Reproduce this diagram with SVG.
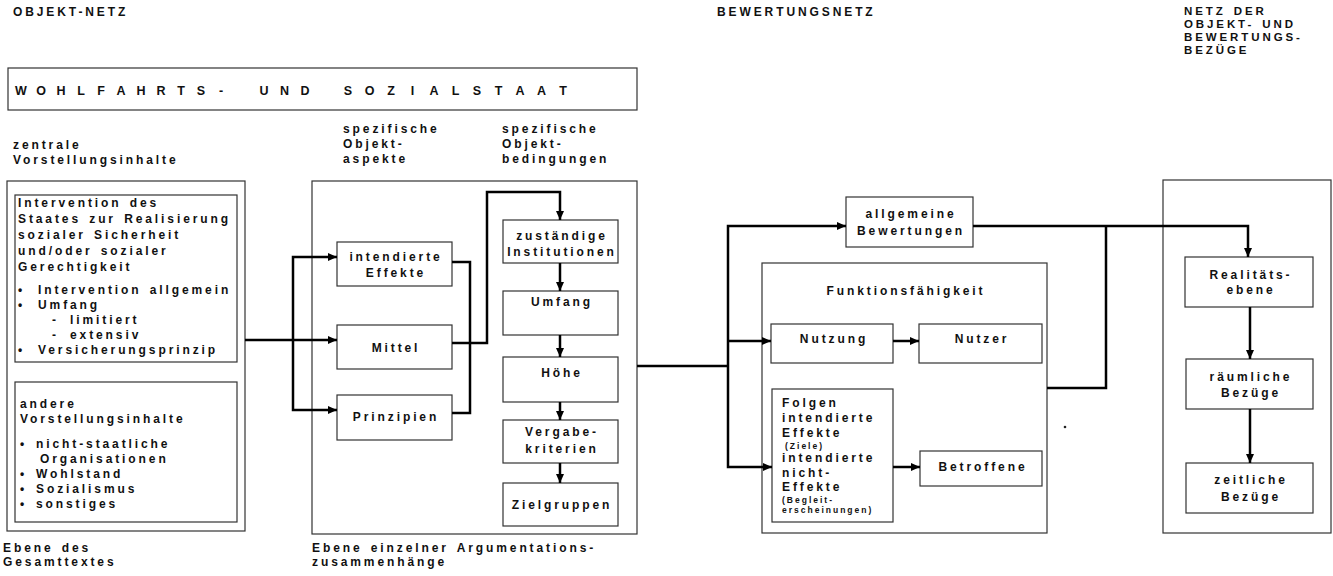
<svg xmlns="http://www.w3.org/2000/svg" width="1333" height="576" viewBox="0 0 1333 576">
<style>
.t{font-family:"Liberation Sans",Arial,sans-serif;font-weight:bold;font-size:12px;letter-spacing:2.9px;word-spacing:2px;fill:#111}
.h{font-size:11.5px}
.c{text-anchor:middle}
.s{font-size:8.5px;letter-spacing:2px}
.ti{font-family:"Liberation Sans",Arial,sans-serif;font-weight:bold;font-size:12.5px;fill:#111;text-anchor:middle}
.box{fill:#fff;stroke:#333;stroke-width:1.2}
.conn{fill:none;stroke:#000;stroke-width:2.5}
.arr{marker-end:url(#ah)}
</style>
<defs>
<marker id="ah" markerUnits="userSpaceOnUse" markerWidth="10" markerHeight="8" refX="9" refY="4" orient="auto">
<path d="M0,0 L9,4 L0,8 z" fill="#000"/>
</marker>
</defs>
<rect width="1333" height="576" fill="#fff"/>

<g id="headers">
<text class="t" x="13" y="16">OBJEKT-NETZ</text>
<text class="t" x="717" y="16">BEWERTUNGSNETZ</text>
<text class="t h" x="1184" y="15">NETZ DER</text>
<text class="t h" x="1184" y="28">OBJEKT- UND</text>
<text class="t h" x="1184" y="41">BEWERTUNGS-</text>
<text class="t h" x="1184" y="54">BEZÜGE</text>
<text class="t" x="13" y="149">zentrale</text>
<text class="t" x="13" y="164">Vorstellungsinhalte</text>
<text class="t" x="343" y="133">spezifische</text>
<text class="t" x="343" y="148">Objekt-</text>
<text class="t" x="343" y="163">aspekte</text>
<text class="t" x="502" y="133">spezifische</text>
<text class="t" x="502" y="148">Objekt-</text>
<text class="t" x="502" y="163">bedingungen</text>
<text class="t" x="3" y="552">Ebene des</text>
<text class="t" x="3" y="566">Gesamttextes</text>
<text class="t" x="312" y="552">Ebene einzelner Argumentations-</text>
<text class="t" x="312" y="566">zusammenhänge</text>
</g>

<g id="title">
<rect class="box" x="8" y="68" width="629" height="42"/>
<text class="ti" y="95" x="21 41 61 81 101 121 141 161 181 201 221">WOHLFAHRTS-</text>
<text class="ti" y="95" x="264 284.5 305">UND</text>
<text class="ti" y="95" x="348 369.5 391 412.5 434 455.5 477 498.5 520 541.5 563">SOZIALSTAAT</text>
</g>

<g id="gesamttext">
<rect class="box" x="7" y="181" width="238" height="350"/>
</g>
<g id="zentrale">
<rect class="box" x="15" y="195" width="222" height="167"/>
<text class="t" x="18" y="207">Intervention des</text>
<text class="t" x="18" y="223">Staates zur Realisierung</text>
<text class="t" x="18" y="239">sozialer Sicherheit</text>
<text class="t" x="18" y="255">und/oder sozialer</text>
<text class="t" x="18" y="271">Gerechtigkeit</text>
<text class="t" x="18" y="294">•</text><text class="t" x="38" y="294">Intervention allgemein</text>
<text class="t" x="18" y="309">•</text><text class="t" x="38" y="309">Umfang</text>
<text class="t" x="52" y="324">-</text><text class="t" x="70" y="324">limitiert</text>
<text class="t" x="52" y="339">-</text><text class="t" x="70" y="339">extensiv</text>
<text class="t" x="18" y="354">•</text><text class="t" x="38" y="354">Versicherungsprinzip</text>
</g>
<g id="andere">
<rect class="box" x="15" y="382" width="222" height="140"/>
<text class="t" x="20" y="408">andere</text>
<text class="t" x="20" y="423">Vorstellungsinhalte</text>
<text class="t" x="20" y="448">•</text><text class="t" x="36" y="448">nicht-staatliche</text>
<text class="t" x="40" y="463">Organisationen</text>
<text class="t" x="20" y="478">•</text><text class="t" x="36" y="478">Wohlstand</text>
<text class="t" x="20" y="493">•</text><text class="t" x="36" y="493">Sozialismus</text>
<text class="t" x="20" y="508">•</text><text class="t" x="36" y="508">sonstiges</text>
</g>

<g id="argumentation">
<rect class="box" x="312" y="181" width="325" height="353"/>
</g>
<g id="intendierte"><rect class="box" x="337" y="242" width="115" height="44"/>
<text class="t c" x="396" y="261">intendierte</text><text class="t c" x="396" y="277">Effekte</text></g>
<g id="mittel"><rect class="box" x="337" y="325" width="115" height="44"/>
<text class="t c" x="396" y="352">Mittel</text></g>
<g id="prinzipien"><rect class="box" x="337" y="395" width="115" height="45"/>
<text class="t c" x="396" y="421">Prinzipien</text></g>

<g id="institutionen"><rect class="box" x="503" y="220" width="115" height="43"/>
<text class="t c" x="562" y="240">zuständige</text><text class="t c" x="562" y="256">Institutionen</text></g>
<g id="umfang"><rect class="box" x="503" y="291" width="115" height="44"/>
<text class="t c" x="562" y="306">Umfang</text></g>
<g id="hoehe"><rect class="box" x="503" y="357" width="115" height="45"/>
<text class="t c" x="562" y="377">Höhe</text></g>
<g id="vergabe"><rect class="box" x="503" y="420" width="115" height="43"/>
<text class="t c" x="562" y="436">Vergabe-</text><text class="t c" x="562" y="453">kriterien</text></g>
<g id="zielgruppen"><rect class="box" x="503" y="483" width="115" height="43"/>
<text class="t c" x="562" y="509">Zielgruppen</text></g>

<g id="bewertungen"><rect class="box" x="846" y="197" width="127" height="50"/>
<text class="t c" x="911" y="218">allgemeine</text><text class="t c" x="911" y="235">Bewertungen</text></g>

<g id="funktion"><rect class="box" x="762" y="263" width="285" height="270"/>
<text class="t c" x="906" y="295">Funktionsfähigkeit</text></g>
<g id="nutzung"><rect class="box" x="771" y="324" width="122" height="39"/>
<text class="t c" x="834" y="343">Nutzung</text></g>
<g id="nutzer"><rect class="box" x="919" y="324" width="123" height="39"/>
<text class="t c" x="982" y="343">Nutzer</text></g>
<g id="folgen"><rect class="box" x="772" y="389" width="121" height="133"/>
<text class="t" x="782" y="407">Folgen</text>
<text class="t" x="782" y="422">intendierte</text>
<text class="t" x="782" y="437">Effekte</text>
<text class="t s" x="785" y="449">(Ziele)</text>
<text class="t" x="782" y="462">intendierte</text>
<text class="t" x="782" y="477">nicht-</text>
<text class="t" x="782" y="491">Effekte</text>
<text class="t s" x="782" y="503">(Begleit-</text>
<text class="t s" x="782" y="513">erscheinungen)</text></g>
<g id="betroffene"><rect class="box" x="920" y="451" width="122" height="35"/>
<text class="t c" x="983" y="471">Betroffene</text></g>
<circle cx="1065" cy="427" r="1.3" fill="#222"/>

<g id="bezuege">
<rect class="box" x="1163" y="180" width="168" height="353"/>
</g>
<g id="realitaet"><rect class="box" x="1185" y="257" width="128" height="50"/>
<text class="t c" x="1251" y="279">Realitäts-</text><text class="t c" x="1251" y="294">ebene</text></g>
<g id="raeumlich"><rect class="box" x="1186" y="359" width="127" height="50"/>
<text class="t c" x="1251" y="381">räumliche</text><text class="t c" x="1251" y="397">Bezüge</text></g>
<g id="zeitlich"><rect class="box" x="1186" y="463" width="127" height="50"/>
<text class="t c" x="1251" y="484">zeitliche</text><text class="t c" x="1251" y="501">Bezüge</text></g>

<g id="connectors">
<path class="conn arr" d="M245 340 H337"/>
<path class="conn arr" d="M293 340 V257 H337"/>
<path class="conn arr" d="M293 340 V410 H337"/>
<path class="conn" d="M452 262 H470 V413 H452"/>
<path class="conn arr" d="M452 343 H487 V192 H560 V220"/>
<path class="conn arr" d="M560 263 V291"/>
<path class="conn arr" d="M560 335 V357"/>
<path class="conn arr" d="M560 402 V420"/>
<path class="conn arr" d="M560 463 V483"/>
<path class="conn" d="M637 366 H728"/>
<path class="conn arr" d="M728 366 V226 H846"/>
<path class="conn arr" d="M728 341 H771"/>
<path class="conn arr" d="M728 366 V467 H772"/>
<path class="conn arr" d="M893 341 H919"/>
<path class="conn arr" d="M893 467 H920"/>
<path class="conn arr" d="M973 226 H1248 V257"/>
<path class="conn" d="M1047 388 H1106 V226"/>
<path class="conn arr" d="M1250 307 V359"/>
<path class="conn arr" d="M1250 409 V463"/>
</g>
</svg>
